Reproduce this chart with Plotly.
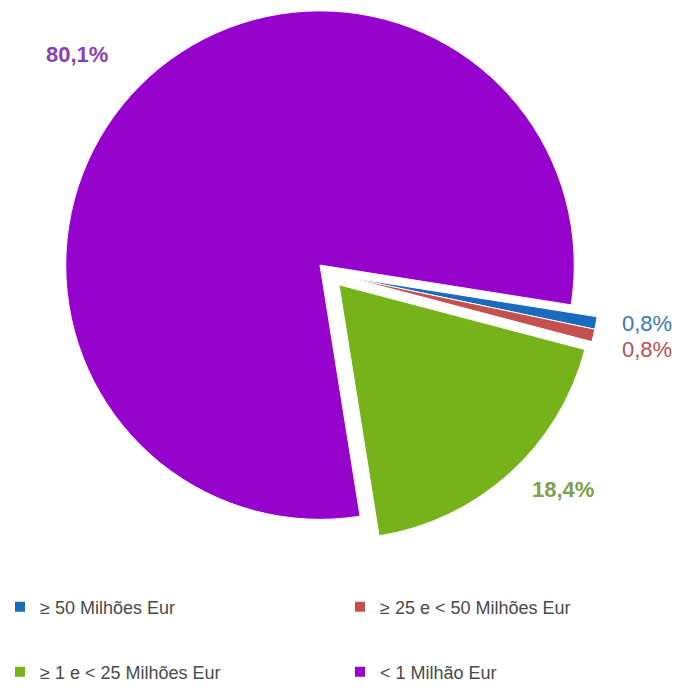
import plotly.graph_objects as go

# ---- data ----
categories = ["≥ 50 Milhões Eur", "≥ 25 e < 50 Milhões Eur", "≥ 1 e < 25 Milhões Eur", "< 1 Milhão Eur"]
shares = [0.8, 0.8, 18.4, 80.1]
colors = ["#1A6BBF", "#C4514D", "#76B31B", "#9603CD"]
label_colors = ["#3A78B0", "#B85050", "#7E9F4E", "#8A3FB8"]

W, H = 678, 691
TRANSPARENT = "rgba(0,0,0,0)"


def dom(cx, cy, r):
    return dict(x=[(cx - r) / W, (cx + r) / W], y=[1 - (cy + r) / H, 1 - (cy - r) / H])


def pie_layer(visible_idx, cx, cy, r):
    cols = [colors[i] if i in visible_idx else TRANSPARENT for i in range(len(categories))]
    lw = [1 if i in visible_idx else 0 for i in range(len(categories))]
    return go.Pie(
        labels=categories, values=shares, sort=False, direction="clockwise",
        rotation=99, textinfo="none", showlegend=False, hoverinfo="skip",
        marker=dict(colors=cols, line=dict(color="white", width=lw)),
        domain=dom(cx, cy, r),
    )


CX, CY, R = 320, 269, 258
fig = go.Figure()
fig.add_trace(pie_layer([3], CX, CY, R))              # main slice
fig.add_trace(pie_layer([0, 1], CX + 26, CY + 12, R))  # offset small slices
fig.add_trace(pie_layer([2], CX + 19, CY + 20, R))     # offset green slice

# legend entries (one legend per entry, laid out in a 2x2 grid)
legend_ids = ["legend", "legend2", "legend3", "legend4"]
legend_xy = [(0, 616), (340, 616), (0, 682), (340, 682)]
for i, name in enumerate(categories):
    fig.add_trace(go.Scatter(
        x=[None], y=[None], mode="markers", name=name,
        marker=dict(symbol="square", size=10, color=colors[i]),
        legend=legend_ids[i],
    ))


def fmt(v):
    return f"{v:.1f}%".replace(".", ",")


label_pos = [(647, 328), (647, 355), (563, 497), (77, 55)]
for i, (px, py) in enumerate(label_pos):
    fig.add_annotation(
        x=px / W, y=1 - py / H, xref="paper", yref="paper", showarrow=False,
        text=f"<b>{fmt(shares[i])}</b>" if i >= 2 else fmt(shares[i]),
        font=dict(family="Liberation Sans, Arial, sans-serif", size=22, color=label_colors[i]),
        xanchor="center", yanchor="middle",
    )

legend_layout = {}
for lid, (px, py) in zip(legend_ids, legend_xy):
    legend_layout[lid] = dict(
        orientation="h", x=px / W, xanchor="left", y=1 - py / H, yanchor="middle",
        font=dict(family="Liberation Sans, Arial, sans-serif", size=18, color="#4A4A4A"),
        bgcolor="rgba(0,0,0,0)", itemclick=False, itemdoubleclick=False,
    )

fig.update_layout(
    width=W, height=H, margin=dict(l=0, r=0, t=0, b=0),
    paper_bgcolor="white", plot_bgcolor="white",
    xaxis=dict(visible=False), yaxis=dict(visible=False),
    **legend_layout,
)

fig.write_html(
    "out.html",
    config={"displayModeBar": False},
    post_script="document.body.style.margin='0';document.body.style.overflow='hidden';",
)
